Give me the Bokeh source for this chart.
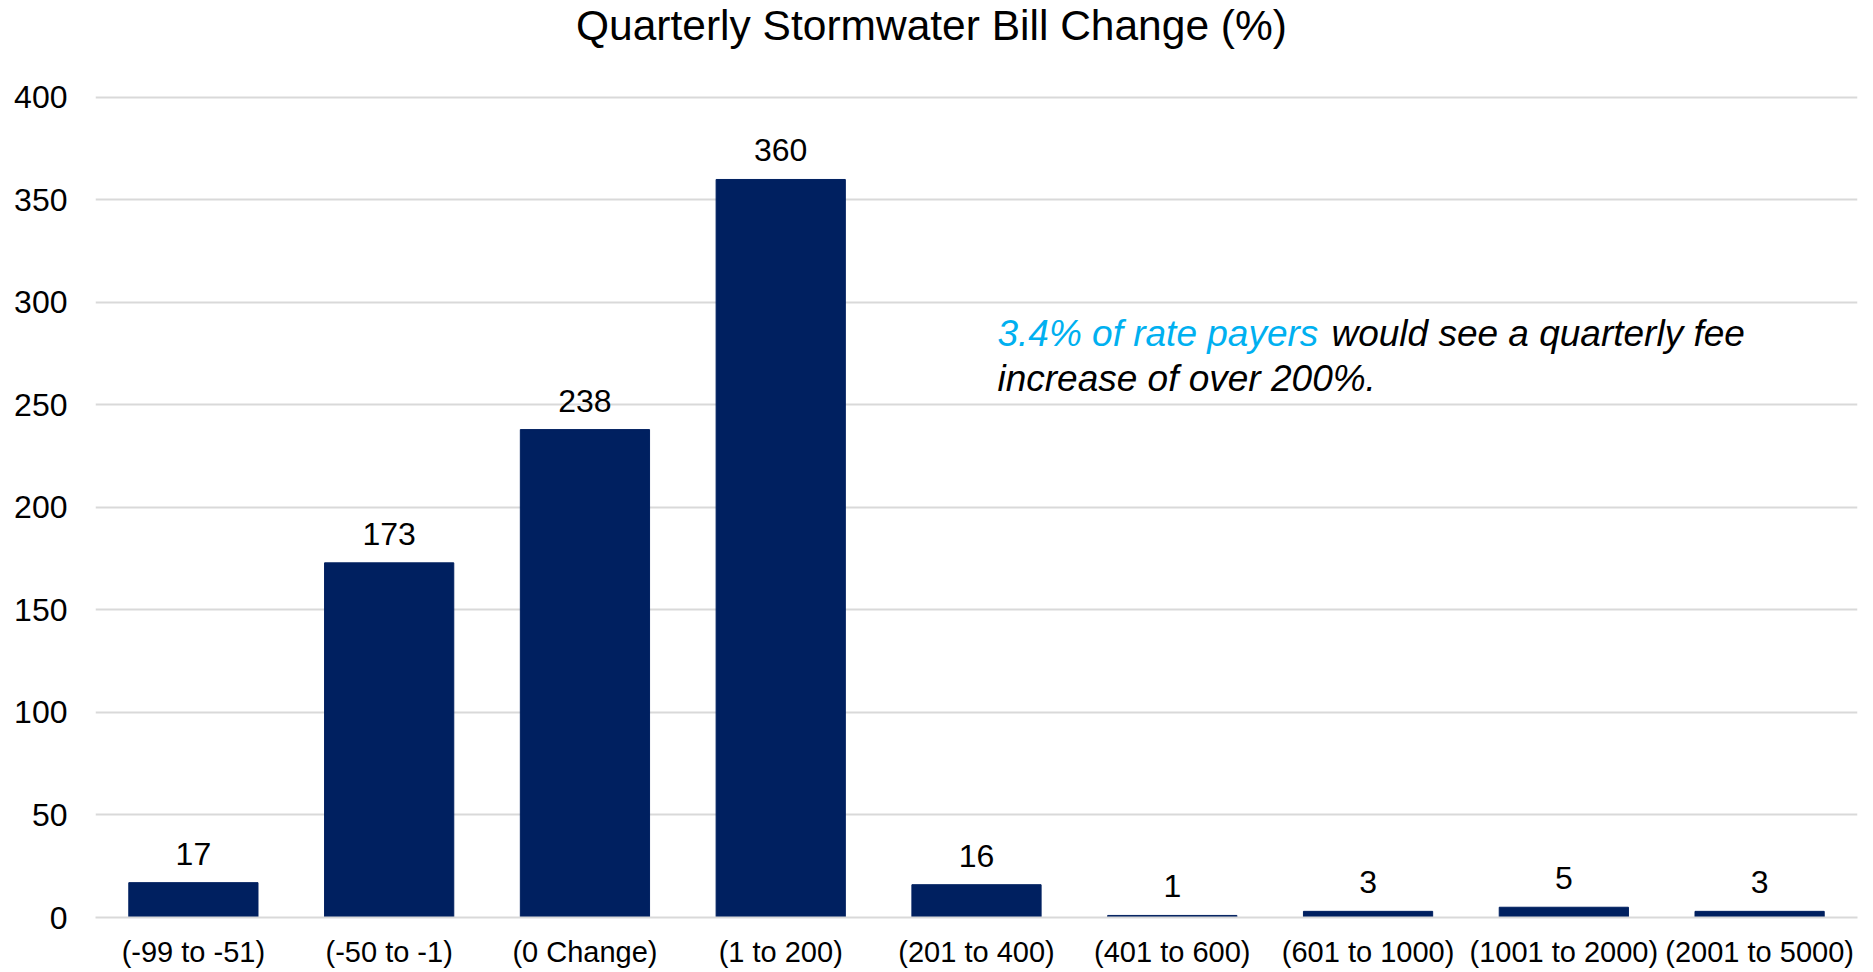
from bokeh.plotting import figure
from bokeh.models import FactorRange, Range1d, Label
from bokeh.embed import file_html
from bokeh.resources import INLINE
from bokeh.core.properties import value

categories = ["(-99 to -51)", "(-50 to -1)", "(0 Change)", "(1 to 200)", "(201 to 400)",
              "(401 to 600)", "(601 to 1000)", "(1001 to 2000)", "(2001 to 5000)"]
counts = [17, 173, 238, 360, 16, 1, 3, 5, 3]
y_ticks = [0, 50, 100, 150, 200, 250, 300, 350, 400]
title_text = "Quarterly Stormwater Bill Change (%)"
note_highlight = "3.4% of rate payers"
note_rest_line1 = "would see a quarterly fee"
note_line2 = "increase of over 200%."

FONT = "Liberation Sans"
BAR = "#002060"
GRID = "#D9D9D9"

p = figure(frame_width=1762, frame_height=917,
           x_range=FactorRange(*categories, range_padding=0),
           y_range=Range1d(0, 447.3),
           output_backend="svg", toolbar_location=None,
           min_border_left=95, min_border_right=8,
           min_border_top=0, min_border_bottom=53)
p.title.visible = False

p.vbar(x=categories, top=counts, width=0.66, color=BAR)
p.text(x=categories, y=counts, text=[str(c) for c in counts],
       text_align="center", text_baseline="alphabetic", y_offset=-29,
       text_font=value(FONT), text_font_size="32px", text_color="black")

p.outline_line_color = None
p.xgrid.grid_line_color = None
p.ygrid.grid_line_color = GRID
p.ygrid.grid_line_width = 2
p.yaxis.ticker = y_ticks

for ax in (p.xaxis, p.yaxis):
    ax.major_label_text_font = FONT
    ax.major_label_text_color = "black"
    ax.major_tick_line_color = None
    ax.minor_tick_line_color = None
p.xaxis.major_label_text_font_size = "29px"
p.yaxis.major_label_text_font_size = "32px"
p.yaxis.axis_line_color = None
p.xaxis.axis_line_color = GRID
p.xaxis.axis_line_width = 2
p.yaxis.major_label_standoff = 22
p.xaxis.major_label_standoff = 12

# chart title, inside the (extended) frame
p.add_layout(Label(x=4.27, y=435, text=title_text, text_align="center",
                   text_baseline="alphabetic", text_font=FONT,
                   text_font_size="42.5px", text_color="black"))

# annotation
p.add_layout(Label(x=4.607, y=285, text=note_highlight, text_align="left",
                   text_baseline="alphabetic", text_font=FONT, text_font_style="italic",
                   text_font_size="37px", text_color="#00B0F0"))
p.add_layout(Label(x=4.607, y=285, x_offset=334, text=note_rest_line1, text_align="left",
                   text_baseline="alphabetic", text_font=FONT, text_font_style="italic",
                   text_font_size="37px", text_color="black"))
p.add_layout(Label(x=4.607, y=263, text=note_line2, text_align="left",
                   text_baseline="alphabetic", text_font=FONT, text_font_style="italic",
                   text_font_size="37px", text_color="black"))

open("out.html", "w").write(file_html(p, INLINE))
